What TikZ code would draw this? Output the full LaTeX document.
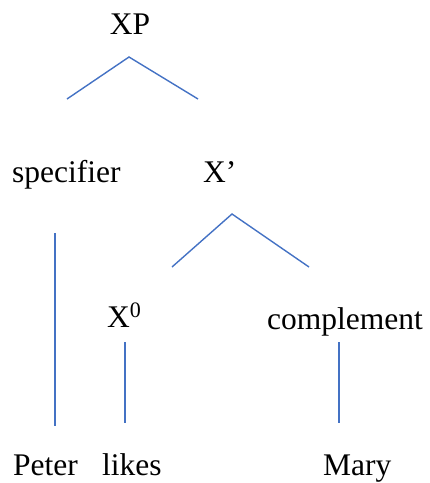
\documentclass[tikz,border=0pt]{standalone}
\usepackage{fontspec}
\setmainfont{Liberation Serif}
\definecolor{lineblue}{HTML}{4472C4}
\begin{document}
\begin{tikzpicture}[x=1pt,y=-1pt,
  lbl/.style={inner sep=0pt,anchor=base west,font=\fontsize{31.5}{37}\selectfont},
  branch/.style={draw=lineblue,line width=1.4pt}]
\useasboundingbox (0,0) rectangle (430,483);
% labels
\node[lbl,anchor=base] (xp) at (130,34) {XP};
\node[lbl] (spec) at (12,182) {specifier};
\node[lbl] (xbar) at (203,182) {X’};
\node[lbl] (x0) at (107,327) {X\textsuperscript{0}};
\node[lbl] (comp) at (267,329) {complement};
\node[lbl] (peter) at (13,475) {Peter};
\node[lbl] (likes) at (102,475) {likes};
\node[lbl] (mary) at (323,475) {Mary};
% branch points
\coordinate (xpapex) at (129,57);
\coordinate (xpl) at (67,99);
\coordinate (xpr) at (198,99);
\coordinate (xbapex) at (232,214);
\coordinate (xbl) at (172,267);
\coordinate (xbr) at (309,267);
\coordinate (spectop) at (55,233);
\coordinate (specbot) at (55,426);
\coordinate (x0top) at (125,342);
\coordinate (x0bot) at (125,423);
\coordinate (comptop) at (339,342);
\coordinate (compbot) at (339,423);
\draw[branch] (xpl) -- (xpapex) -- (xpr);
\draw[branch] (xbl) -- (xbapex) -- (xbr);
\draw[branch] (spectop) -- (specbot);
\draw[branch] (x0top) -- (x0bot);
\draw[branch] (comptop) -- (compbot);
\end{tikzpicture}
\end{document}
